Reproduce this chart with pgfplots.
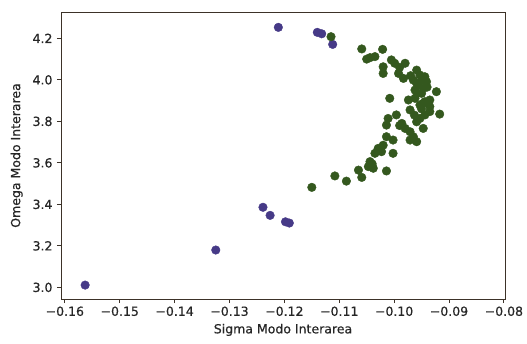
\documentclass[border=0pt]{standalone}
\usepackage{pgfplots}
\pgfplotsset{compat=1.18}
\usepackage{fontspec}
\setmainfont{DejaVu Sans}[FakeBold=0.6]
\definecolor{ppl}{RGB}{70,58,135}
\definecolor{grn}{RGB}{52,88,30}
\definecolor{frm}{RGB}{60,50,40}
\begin{document}
\begin{tikzpicture}
\begin{axis}[
  name=ax,
  scale only axis,
  width=444pt, height=287pt,
  xmin=-0.1607, xmax=-0.0798,
  ymin=2.944, ymax=4.327,
  axis line style={frm, line width=0.9pt},
  tick style={frm, line width=0.9pt},
  tick align=outside,
  major tick length=4pt,
  xtick={-0.16,-0.15,-0.14,-0.13,-0.12,-0.11,-0.10,-0.09,-0.08},
  xticklabels={−0.16,−0.15,−0.14,−0.13,−0.12,−0.11,−0.10,−0.09,−0.08},
  ytick={3.0,3.2,3.4,3.6,3.8,4.0,4.2},
  yticklabels={3.0,3.2,3.4,3.6,3.8,4.0,4.2},
  xtick pos=bottom, ytick pos=left,
  ticklabel style={font=\fontsize{12.5}{14}\selectfont, text=black!85},
  label style={font=\fontsize{12.5}{14}\selectfont, text=black!85},
  xlabel={Sigma Modo Interarea},
  ylabel={Omega Modo Interarea},
  xlabel style={yshift=-1pt},
  ylabel style={yshift=3pt},
  yticklabel style={xshift=-1pt},
]
\addplot[only marks, color=ppl, mark=*, mark size=4.3pt, mark options={draw=ppl, fill=ppl}] coordinates {
(-0.1211,4.253) (-0.1140,4.229) (-0.1132,4.222) (-0.1112,4.171)
(-0.1563,3.011) (-0.1325,3.180) (-0.1239,3.386) (-0.1226,3.347)
(-0.1198,3.316) (-0.1191,3.310)
};
\addplot[only marks, color=grn, mark=*, mark size=4.3pt, mark options={draw=grn, fill=grn}] coordinates {
(-0.1115,4.208) (-0.1059,4.149) (-0.1021,4.147) (-0.1044,4.107) (-0.1035,4.112)
(-0.1020,4.063) (-0.1020,4.031) (-0.1005,4.096) (-0.0999,4.080) (-0.0980,4.080)
(-0.0992,4.031) (-0.0983,4.007) (-0.0959,4.047) (-0.0953,4.023) (-0.0944,4.015)
(-0.0941,3.991) (-0.0965,3.999) (-0.0956,3.975) (-0.0947,3.959) (-0.0923,3.943)
(-0.1008,3.911) (-0.0974,3.903) (-0.0962,3.911) (-0.0953,3.879) (-0.0944,3.895)
(-0.0935,3.903) (-0.0935,3.871) (-0.0947,3.887) (-0.0935,3.847) (-0.0944,3.831)
(-0.0953,3.814) (-0.0959,3.798) (-0.0917,3.835) (-0.1011,3.814) (-0.0996,3.831)
(-0.1014,3.782) (-0.0986,3.790) (-0.0980,3.766) (-0.0971,3.750) (-0.0965,3.726)
(-0.0959,3.702) (-0.0947,3.766) (-0.1014,3.726) (-0.1002,3.710) (-0.0971,3.710)
(-0.1029,3.670) (-0.1035,3.646) (-0.1023,3.654) (-0.1002,3.646) (-0.1044,3.606)
(-0.1038,3.574) (-0.1047,3.582) (-0.1014,3.561) (-0.1065,3.565) (-0.1059,3.530)
(-0.1087,3.512) (-0.1108,3.537) (-0.1150,3.482)
(-0.0959,3.983) (-0.0950,3.935) (-0.0962,3.951) (-0.0971,3.855)
(-0.1050,4.100) (-0.0990,4.060) (-0.0970,4.020) (-0.0950,3.995) (-0.0940,3.965)
(-0.0958,3.935) (-0.0950,3.860) (-0.0963,3.830) (-0.0990,3.780) (-0.1030,3.660)
(-0.1040,3.595) (-0.1020,3.685)
};
\end{axis}
\path (ax.south west) ++(-61pt,-44pt) coordinate (bl);
\path (ax.north east) ++(22pt,12pt) coordinate (tr);
\useasboundingbox (bl) rectangle (tr);
\end{tikzpicture}
\end{document}
